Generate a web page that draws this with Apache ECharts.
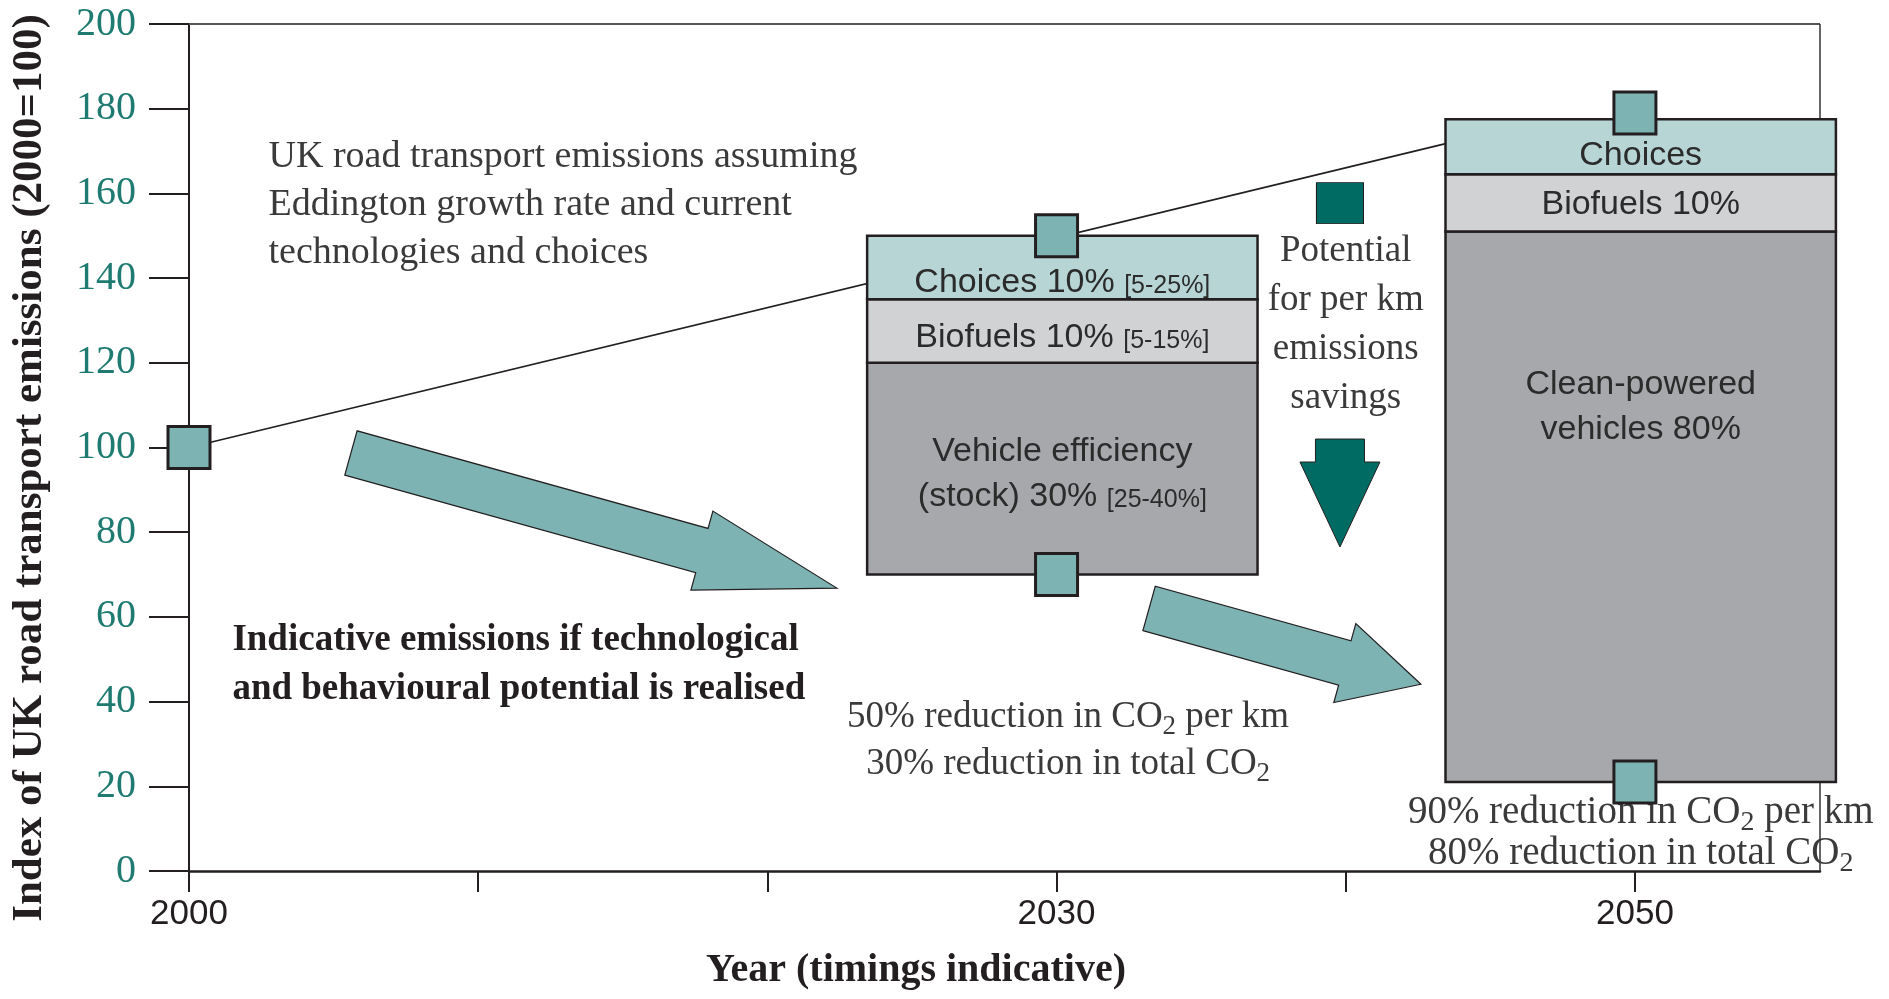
<!DOCTYPE html>
<html>
<head>
<meta charset="utf-8">
<title>UK road transport emissions</title>
<script src="https://cdn.jsdelivr.net/npm/echarts@6/dist/echarts.min.js"></script>
<style>
  html, body { margin: 0; padding: 0; background: #fff; }
  #chart { width: 1889px; height: 999px; }
</style>
</head>
<body>
<div id="chart"></div>
<script>
// trend line: Eddington growth rate, current technologies and choices
// (runs into the 2050 box)
const trendYears = [2000, 2043.6]
const trendValues = [100, 172]

// teal square markers
const markerYears = [2000, 2030, 2030, 2050, 2050]
const markerValues = [100, 150, 70, 179, 21]

// stacked savings boxes (index values)
const boxYears = [2030.2, 2050.2]
const boxBottom = [70, 21]
const biofuelsBottom = [120, 151]
const choicesBottom = [135, 164.5]
const boxTop = [150, 177.5]

const vehicleLabels = ['Vehicle efficiency\n(stock) 30% {b|[25-40%]}', 'Clean-powered\nvehicles 80%']
const biofuelsLabels = ['Biofuels 10% {b|[5-15%]}', 'Biofuels 10%']
const choicesLabels = ['Choices 10% {b|[5-25%]}', 'Choices']
const vehicleLabelAt = [93.8, 109.5]
const biofuelsLabelAt = [126, 157.3]
const choicesLabelAt = [139, 169]

// big teal arrows, from -> to in (year, index)
const arrowFrom = [[2005.6, 98.7], [2033.2, 62.0]]
const arrowTo = [[2022.4, 66.8], [2042.6, 44.1]]

// per km savings marker and arrow
const savingsYear = 2039.8
const savingsBlock = 157.7
const savingsArrowFrom = 102
const savingsArrowTo = 76.5

// axis ticks
const xTickYears = [2000, 2010, 2020, 2030, 2040, 2050]
const xLabelYears = [2000, 2030, 2050]

// free text notes
const noteYears = [2002.75, 2001.5, 2030.4, 2050.2, 2040.0]
const noteValues = [174.3, 60.3, 41.9, 18.7, 152]
const noteTexts = [
  'UK road transport emissions assuming\nEddington growth rate and current\ntechnologies and choices',
  'Indicative emissions if technological\nand behavioural potential is realised',
  '{t|50% reduction in CO}{s|2}{t| per km}\n{t|30% reduction in total CO}{s|2}',
  '{t|90% reduction in CO}{s|2}{t| per km}\n{t|80% reduction in total CO}{s|2}',
  'Potential\nfor per km\nemissions\nsavings'
]

const SERIF = '"Liberation Serif", "DejaVu Serif", serif'
const SANS = '"Liberation Sans", Arial, sans-serif'
const TEAL = '#7db3b3'
const DARK_TEAL = '#006b62'
const INK = '#231f20'
const LAYER_FILL = ['#a7a8ac', '#d1d2d4', '#b8d5d5']
const BOX_HALF = 6.75
const ARROW_HEAD = [140, 79]

const chart = echarts.init(document.getElementById('chart'))

const layerData = []
const labelData = []
const labelTexts = []
boxYears.forEach((yr, i) => {
  layerData.push([yr, boxBottom[i], biofuelsBottom[i], 0])
  layerData.push([yr, biofuelsBottom[i], choicesBottom[i], 1])
  layerData.push([yr, choicesBottom[i], boxTop[i], 2])
  labelData.push([yr, vehicleLabelAt[i], labelTexts.length]); labelTexts.push(vehicleLabels[i])
  labelData.push([yr, biofuelsLabelAt[i], labelTexts.length]); labelTexts.push(biofuelsLabels[i])
  labelData.push([yr, choicesLabelAt[i], labelTexts.length]); labelTexts.push(choicesLabels[i])
})

function arrowPoints(p0, p1, shaftHalf, headHalf, headLen) {
  const dx = p1[0] - p0[0], dy = p1[1] - p0[1]
  const len = Math.hypot(dx, dy)
  const ux = dx / len, uy = dy / len
  const nx = -uy, ny = ux
  const bx = p1[0] - ux * headLen, by = p1[1] - uy * headLen
  return [
    [p0[0] + nx * shaftHalf, p0[1] + ny * shaftHalf],
    [bx + nx * shaftHalf, by + ny * shaftHalf],
    [bx + nx * headHalf, by + ny * headHalf],
    [p1[0], p1[1]],
    [bx - nx * headHalf, by - ny * headHalf],
    [bx - nx * shaftHalf, by - ny * shaftHalf],
    [p0[0] - nx * shaftHalf, p0[1] - ny * shaftHalf]
  ]
}

const noteStyle = [
  { align: 'left', size: 38, weight: 'normal', lineHeight: 48 },
  { align: 'left', size: 37, weight: 'bold', lineHeight: 49 },
  { align: 'center', size: 37, weight: 'normal', lineHeight: 47 },
  { align: 'center', size: 39, weight: 'normal', lineHeight: 41 },
  { align: 'center', size: 37, weight: 'normal', lineHeight: 49 }
]

const option = {
  animation: false,
  grid: { left: 189, right: 69, top: 24, bottom: 128, containLabel: false },
  xAxis: {
    type: 'value',
    min: 2000,
    max: 2056.4,
    splitLine: { show: false },
    axisLine: { lineStyle: { color: INK, width: 2.5 } },
    axisTick: { customValues: xTickYears, length: 21, lineStyle: { color: INK, width: 2 } },
    axisLabel: {
      customValues: xLabelYears,
      margin: 26,
      color: '#231f20',
      fontFamily: SANS,
      fontSize: 35,
      formatter: v => String(v)
    }
  },
  yAxis: {
    type: 'value',
    min: 0,
    max: 200,
    interval: 20,
    splitLine: { show: false },
    axisLine: { lineStyle: { color: INK, width: 2 } },
    axisTick: { length: 40, lineStyle: { color: INK, width: 2 } },
    axisLabel: { margin: 53, color: '#1f7b72', fontFamily: SERIF, fontSize: 40 }
  },
  graphic: [
    {
      type: 'text', x: 30, y: 468, rotation: Math.PI / 2,
      style: {
        text: 'Index of UK road transport emissions (2000=100)',
        font: 'bold 43px ' + SERIF, fill: '#231f20', align: 'center', verticalAlign: 'middle'
      }
    },
    {
      type: 'text', x: 916, y: 971,
      style: {
        text: 'Year (timings indicative)',
        font: 'bold 40px ' + SERIF, fill: '#231f20', align: 'center', verticalAlign: 'middle'
      }
    }
  ],
  series: [
    {
      // notes
      type: 'custom',
      z: 1,
      silent: true,
      data: noteYears.map((yr, i) => [yr, noteValues[i], i]),
      renderItem: (params, api) => {
        const i = api.value(2)
        const p = api.coord([api.value(0), api.value(1)])
        const st = noteStyle[i]
        const font = st.weight + ' ' + st.size + 'px ' + SERIF
        const color = i === 1 ? '#231f20' : '#3a3a3a'
        return {
          type: 'text',
          x: p[0],
          y: p[1],
          style: {
            text: noteTexts[i],
            font: font,
            fill: color,
            align: st.align,
            verticalAlign: 'top',
            lineHeight: st.lineHeight,
            rich: {
              t: { font: font, fill: color, lineHeight: st.lineHeight },
              s: { fontFamily: SERIF, fontSize: Math.round(st.size * 0.72), fill: color, padding: [20, 0, 0, 0], lineHeight: st.lineHeight }
            }
          }
        }
      }
    },
    {
      // plot frame, top and right
      type: 'custom',
      z: 2,
      silent: true,
      data: [[2000, 0]],
      renderItem: (params) => {
        const cs = params.coordSys
        return {
          type: 'group',
          children: [
            { type: 'line', shape: { x1: cs.x, y1: cs.y, x2: cs.x + cs.width, y2: cs.y }, style: { stroke: '#555', lineWidth: 2 } },
            { type: 'line', shape: { x1: cs.x + cs.width, y1: cs.y, x2: cs.x + cs.width, y2: cs.y + cs.height }, style: { stroke: '#333', lineWidth: 1.5 } }
          ]
        }
      }
    },
    {
      type: 'line',
      z: 2,
      silent: true,
      data: trendYears.map((yr, i) => [yr, trendValues[i]]),
      symbol: 'none',
      lineStyle: { color: INK, width: 1.7 }
    },
    {
      // stacked boxes
      type: 'custom',
      z: 3,
      silent: true,
      data: layerData,
      renderItem: (params, api) => {
        const yr = api.value(0)
        const a = api.coord([yr - BOX_HALF, api.value(2)])
        const b = api.coord([yr + BOX_HALF, api.value(1)])
        return {
          type: 'rect',
          shape: { x: a[0], y: a[1], width: b[0] - a[0], height: b[1] - a[1] },
          style: { fill: LAYER_FILL[api.value(3)], stroke: INK, lineWidth: 2.5 }
        }
      }
    },
    {
      // box labels
      type: 'custom',
      z: 4,
      silent: true,
      data: labelData,
      renderItem: (params, api) => {
        const p = api.coord([api.value(0), api.value(1)])
        return {
          type: 'text',
          x: p[0],
          y: p[1],
          style: {
            text: labelTexts[api.value(2)],
            font: 'normal 34px ' + SANS,
            fill: '#2b2b2b',
            align: 'center',
            verticalAlign: 'middle',
            lineHeight: 45,
            rich: {
              b: { fontFamily: SANS, fontSize: 25, fill: '#2b2b2b', padding: [7, 0, 0, 0] }
            }
          }
        }
      }
    },
    {
      // big teal arrows
      type: 'custom',
      z: 3,
      silent: true,
      data: arrowFrom.map((f, i) => [f[0], f[1], arrowTo[i][0], arrowTo[i][1], i]),
      renderItem: (params, api) => {
        const p0 = api.coord([api.value(0), api.value(1)])
        const p1 = api.coord([api.value(2), api.value(3)])
        return {
          type: 'polygon',
          shape: { points: arrowPoints(p0, p1, 23, 41, ARROW_HEAD[api.value(4)]) },
          style: { fill: TEAL, stroke: INK, lineWidth: 1.2 }
        }
      }
    },
    {
      // per km savings arrow
      type: 'custom',
      z: 3,
      silent: true,
      data: [[savingsYear, savingsArrowFrom, savingsArrowTo]],
      renderItem: (params, api) => {
        const p0 = api.coord([api.value(0), api.value(1)])
        const p1 = api.coord([api.value(0), api.value(2)])
        return {
          type: 'polygon',
          shape: { points: arrowPoints(p0, p1, 24.5, 40, 85) },
          style: { fill: DARK_TEAL, stroke: INK, lineWidth: 1 }
        }
      }
    },
    {
      type: 'scatter',
      z: 5,
      silent: true,
      data: [[savingsYear, savingsBlock]],
      symbol: 'rect',
      symbolSize: [47, 41],
      itemStyle: { color: DARK_TEAL, borderColor: INK, borderWidth: 1, opacity: 1 }
    },
    {
      type: 'scatter',
      z: 5,
      silent: true,
      data: markerYears.map((yr, i) => [yr, markerValues[i]]),
      symbol: 'rect',
      symbolSize: 42,
      itemStyle: { color: TEAL, borderColor: INK, borderWidth: 3, opacity: 1 }
    }
  ]
}

chart.setOption(option)
</script>
</body>
</html>
